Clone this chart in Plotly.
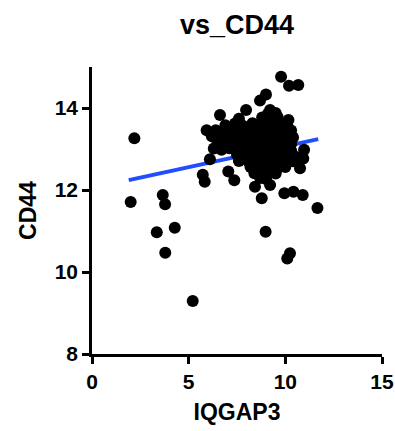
import plotly.graph_objects as go

# ---- data ----
outlier_x = [2.19, 2.0, 3.66, 3.78, 3.35, 4.28, 3.79, 5.21, 8.98, 10.24, 10.1, 11.66,
             9.78, 10.19, 10.67, 9.0, 8.69, 6.62, 7.97, 5.93, 5.73, 5.83, 6.1, 7.05,
             7.36, 9.95, 10.42, 10.9, 8.78, 8.43, 9.21, 10.76, 10.93, 10.97, 10.16, 9.21]
outlier_y = [13.26, 11.71, 11.88, 11.65, 10.97, 11.08, 10.47, 9.29, 10.98, 10.46, 10.33, 11.56,
             14.76, 14.54, 14.56, 14.33, 14.18, 13.83, 13.95, 13.46, 12.37, 12.2, 12.75, 12.45,
             12.24, 11.92, 11.96, 11.88, 11.8, 12.08, 12.12, 12.53, 12.77, 12.98, 13.71, 13.95]

cluster_x = [6.9, 7.4, 7.8, 8.3, 8.6, 9.0, 9.4, 9.7, 10.1,
             7.6, 8.8, 9.3, 9.6,
             9.1, 9.5,
             6.4, 6.8, 7.2, 7.6, 8.0, 8.4, 8.8, 9.1, 9.5, 9.9, 10.3,
             6.2, 6.6, 7.0, 7.3, 7.7, 8.1, 8.5, 8.7, 9.0, 9.3, 9.6, 10.0, 10.4,
             6.5, 6.9, 7.2, 7.5, 7.9, 8.2, 8.6, 8.9, 9.2, 9.5, 9.8, 10.1, 10.3,
             6.3, 6.7, 7.1, 7.4, 7.8, 8.1, 8.4, 8.8, 9.1, 9.4, 9.7, 10.0, 10.3,
             7.5, 7.9, 8.3, 8.6, 8.9, 9.2, 9.5, 9.9, 10.2, 10.5,
             7.6, 8.1, 8.5, 8.8, 9.1, 9.4, 9.8, 10.1, 10.4,
             8.2, 8.6, 8.9, 9.3, 9.6, 10.0,
             8.4, 8.8, 9.2, 9.5,
             8.7, 9.0]
cluster_y = [13.58, 13.62, 13.57, 13.63, 13.59, 13.61, 13.56, 13.64, 13.58,
             13.74, 13.77, 13.73, 13.78,
             13.86, 13.88,
             13.46, 13.43, 13.48, 13.44, 13.47, 13.42, 13.46, 13.44, 13.48, 13.43, 13.45,
             13.31, 13.28, 13.32, 13.29, 13.31, 13.27, 13.33, 13.30, 13.28, 13.32, 13.29, 13.31, 13.28,
             13.16, 13.13, 13.17, 13.14, 13.16, 13.12, 13.17, 13.15, 13.13, 13.16, 13.14, 13.17, 13.12,
             13.01, 12.98, 13.02, 12.99, 13.03, 12.98, 13.01, 13.00, 12.97, 13.02, 12.99, 13.01, 12.96,
             12.86, 12.84, 12.87, 12.85, 12.83, 12.86, 12.84, 12.87, 12.85, 12.82,
             12.71, 12.69, 12.72, 12.70, 12.68, 12.71, 12.69, 12.72, 12.70,
             12.56, 12.54, 12.57, 12.55, 12.53, 12.56,
             12.41, 12.39, 12.42, 12.40,
             12.29, 12.27]

fit_x = [1.9, 11.7]
fit_y = [12.24, 13.24]

x_ticks = [0, 5, 10, 15]
y_ticks = [8, 10, 12, 14]

points_x = outlier_x + cluster_x
points_y = outlier_y + cluster_y

fig = go.Figure()
fig.add_trace(go.Scatter(x=fit_x, y=fit_y, mode="lines",
                         line=dict(color="#1f4dff", width=4), hoverinfo="skip"))
fig.add_trace(go.Scatter(x=points_x, y=points_y, mode="markers", cliponaxis=False,
                         marker=dict(color="black", size=12, line=dict(width=0))))

W, H = 395, 431
font_family = "Liberation Sans, Arial, sans-serif"
fig.update_layout(
    width=W, height=H,
    margin=dict(l=92, r=13, t=67, b=77, autoexpand=False),
    paper_bgcolor="white", plot_bgcolor="white",
    showlegend=False,
    font=dict(family=font_family, color="black"),
    title=dict(text="<b>vs_CD44</b>", x=(92 + 382) / 2 / W, xanchor="center",
               y=1 - 25 / H, yanchor="middle", yref="container",
               font=dict(size=27, family=font_family, color="black")),
)
axis_common = dict(showgrid=False, zeroline=False, showline=True, linecolor="black",
                   linewidth=2.5, ticks="outside", ticklen=7, tickwidth=2.5,
                   tickcolor="black", automargin=False,
                   tickfont=dict(size=21, family=font_family, color="black"))
fig.update_xaxes(range=[0, 15], tickvals=x_ticks, ticktext=[f"<b>{t}</b>" for t in x_ticks],
                 title=dict(text="<b>IQGAP3</b>", standoff=12,
                            font=dict(size=23, family=font_family, color="black")),
                 **axis_common)
fig.update_yaxes(range=[8, 15], tickvals=y_ticks, ticktext=[f"<b>{t}</b>" for t in y_ticks],
                 title=dict(text="<b>CD44</b>", standoff=12,
                            font=dict(size=23, family=font_family, color="black")),
                 **axis_common)

fig.write_html("out.html", config={"displayModeBar": False},
               post_script="document.body.style.margin='0';document.body.style.overflow='hidden';")
